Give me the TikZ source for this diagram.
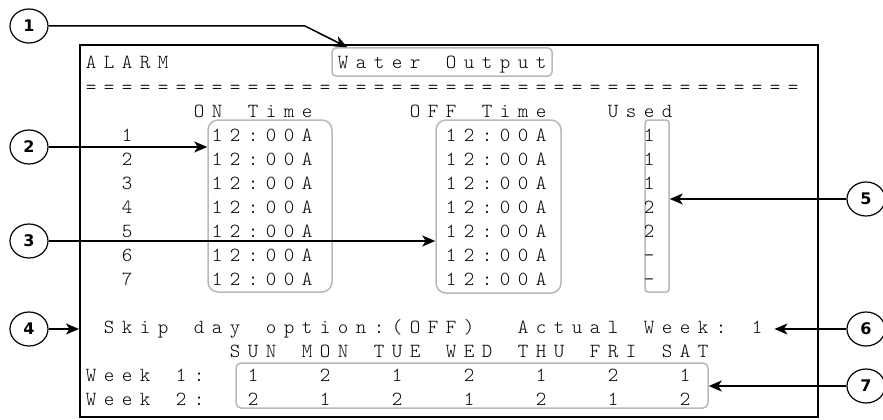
\documentclass[tikz,border=0pt]{standalone}
\usepackage{fontspec}
\newfontfamily\numfont{DejaVu Sans}
\newfontfamily\lcdfont{lmmonolt10-regular.otf}
\usetikzlibrary{arrows.meta,shapes.geometric,positioning}

% one display character per 18pt cell, ~ is an empty cell
\newcommand\lcd[1]{\lcdnext#1\relax}
\def\lcdnext#1{\ifx\relax#1\else\makebox[18pt]{#1}\expandafter\lcdnext\fi}

\begin{document}
\begin{tikzpicture}[x=1pt,y=-1pt]
    \tikzset{
        a/.style={-{Stealth[length=13pt,width=11pt,inset=3.5pt]}, line width=1.5pt},
        num/.style={ellipse, draw, line width=1.2pt, minimum width=38pt, minimum height=34pt, inner sep=0pt, font=\numfont\bfseries\fontsize{16}{16}\selectfont},
        grp/.style={draw=black!28, line width=1.5pt, rounded corners=10pt, inner sep=0pt},
        txt/.style={anchor=base west, inner sep=0pt, font=\lcdfont\fontsize{20}{24}\selectfont},
    }
        \useasboundingbox (0,0) rectangle (883,420);

        \node[draw, line width=2pt, minimum width=738pt, minimum height=372pt, inner sep=0pt] (lcd) at (449,231) {};

        \node[grp, rounded corners=4pt, minimum width=220pt, minimum height=28pt] (water) at (442,62) {};
        \node[grp, minimum width=124pt, minimum height=172pt] (ontime) at (270,206) {};
        \node[grp, minimum width=125pt, minimum height=173pt] (offtime) at (498.5,206.5) {};
        \node[grp, rounded corners=3pt, minimum width=24pt, minimum height=172pt] (used) at (657,206) {};
        \node[grp, rounded corners=5pt, minimum width=472pt, minimum height=45pt] (weeks) at (472,385.5) {};

        \node[txt] (l0) at (82,69) {\lcd{ALARM~~~~~~~~~Water~Output}};
        \node[txt] (l1) at (82,93) {\lcd{========================================}};
        \node[txt] (l2) at (82,117) {\lcd{~~~~~~ON~Time~~~~~OFF~Time~~~Used}};
        \node[txt] (l3) at (82,141) {\lcd{~~1~~~~12:00A~~~~~~~12:00A~~~~~1}};
        \node[txt] (l4) at (82,165) {\lcd{~~2~~~~12:00A~~~~~~~12:00A~~~~~1}};
        \node[txt] (l5) at (82,189) {\lcd{~~3~~~~12:00A~~~~~~~12:00A~~~~~1}};
        \node[txt] (l6) at (82,213) {\lcd{~~4~~~~12:00A~~~~~~~12:00A~~~~~2}};
        \node[txt] (l7) at (82,237) {\lcd{~~5~~~~12:00A~~~~~~~12:00A~~~~~2}};
        \node[txt] (l8) at (82,261) {\lcd{~~6~~~~12:00A~~~~~~~12:00A~~~~~-}};
        \node[txt] (l9) at (82,285) {\lcd{~~7~~~~12:00A~~~~~~~12:00A~~~~~-}};
        \node[txt] (l11) at (82,333) {\lcd{~Skip~day~option:(OFF)~~Actual~Week:~1}};
        \node[txt] (l12) at (82,357) {\lcd{~~~~~~~~SUN~MON~TUE~WED~THU~FRI~SAT}};
        \node[txt] (l13) at (82,381) {\lcd{Week~1:~~1~~~2~~~1~~~2~~~1~~~2~~~1}};
        \node[txt] (l14) at (82,405) {\lcd{Week~2:~~2~~~1~~~2~~~1~~~2~~~1~~~2}};

        \node[num] (n1) at (29,26) {1};
        \node[num] (n2) at (29,147) {2};
        \node[num] (n3) at (29,241) {3};
        \node[num] (n4) at (29,329) {4};
        \node[num] (n5) at (866,199) {5};
        \node[num] (n6) at (866,329) {6};
        \node[num] (n7) at (866,386) {7};

        \coordinate (k1) at (305,26);
        \draw[a] (n1) -- (k1) -- ([xshift=16pt]water.north west);
        \draw[a] (n2) -- (n2 -| ontime.west);
        \draw[a] (n3) -- (n3 -| offtime.west);
        \draw[a] (n4) -- (n4 -| lcd.west);
        \draw[a] (n5) -- (n5 -| used.east);
        \draw[a] (n6) -- ([xshift=8pt]n6 -| l11.east);
        \draw[a] (n7) -- (n7 -| weeks.east);
\end{tikzpicture}
\end{document}
